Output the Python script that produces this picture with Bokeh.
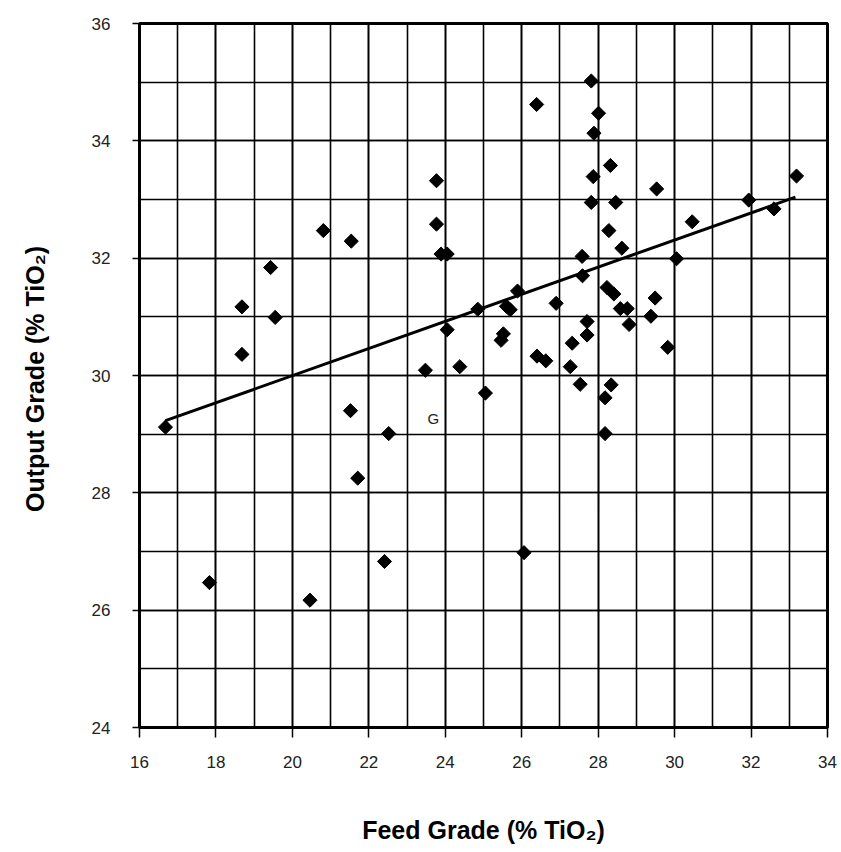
import numpy as np
from bokeh.plotting import figure
from bokeh.models import Range1d, SingleIntervalTicker, Label
from bokeh.embed import file_html
from bokeh.resources import INLINE

# Data
feed_grade = [27.82, 26.39, 28.01, 27.89, 28.32, 27.87, 33.19, 29.53, 23.77, 27.82,
              28.46, 31.94, 32.60, 30.46, 23.77, 28.28, 28.62, 23.89, 24.05, 27.58,
              30.05, 27.59, 28.23, 28.41, 25.89, 25.60, 25.70, 24.85, 26.90, 29.49,
              28.58, 28.76, 29.38, 28.81, 24.05, 27.71, 27.71, 25.52, 25.46, 27.32,
              29.82, 26.40, 26.63, 23.48, 24.38, 27.27, 27.53, 28.34, 28.18, 25.05,
              28.18, 18.68, 19.55, 18.68, 19.43, 20.81, 21.54, 16.68, 21.52, 22.52,
              21.71, 22.41, 17.83, 20.46, 26.06]
output_grade = [35.02, 34.62, 34.47, 34.13, 33.58, 33.39, 33.40, 33.18, 33.32, 32.95,
                32.95, 32.99, 32.84, 32.62, 32.58, 32.47, 32.17, 32.07, 32.07, 32.03,
                31.99, 31.70, 31.50, 31.39, 31.44, 31.18, 31.12, 31.13, 31.23, 31.32,
                31.14, 31.14, 31.01, 30.87, 30.78, 30.92, 30.69, 30.71, 30.60, 30.55,
                30.48, 30.33, 30.25, 30.09, 30.15, 30.15, 29.85, 29.84, 29.62, 29.70,
                29.01, 31.17, 30.99, 30.36, 31.84, 32.47, 32.29, 29.12, 29.40, 29.01,
                28.25, 26.83, 26.47, 26.17, 26.98]

# Trend line end points
fit_x = [16.68, 33.16]
fit_y = [29.23, 33.04]

# Annotation
g_label = {"x": 23.69, "y": 29.26, "text": "G"}

x_ticks_interval = 2
y_ticks_interval = 2

FONT = "Liberation Sans"

p = figure(width=841, height=852, output_backend="svg", toolbar_location=None,
           x_range=Range1d(16, 34), y_range=Range1d(24, 36),
           min_border_left=139, min_border_right=14, min_border_top=23, min_border_bottom=125)
p.background_fill_color = "white"
p.border_fill_color = "white"
p.outline_line_color = "black"
p.outline_line_width = 3

xt = SingleIntervalTicker(interval=x_ticks_interval, num_minor_ticks=2)
yt = SingleIntervalTicker(interval=y_ticks_interval, num_minor_ticks=2)
p.xaxis.ticker = xt
p.yaxis.ticker = yt
p.xgrid.ticker = xt
p.ygrid.ticker = yt

for g in (p.xgrid, p.ygrid):
    g.grid_line_color = "black"
    g.grid_line_width = 1.6
    g.grid_line_alpha = 1.0
    g.minor_grid_line_color = "black"
    g.minor_grid_line_width = 1.6

for ax in (p.xaxis, p.yaxis):
    ax.axis_line_color = "black"
    ax.axis_line_width = 3
    ax.major_tick_line_color = "black"
    ax.major_tick_line_width = 1.5
    ax.major_tick_in = 0
    ax.minor_tick_line_color = None
    ax.major_label_text_font = FONT
    ax.major_label_text_font_size = "17px"
    ax.major_label_text_color = "#222222"
    ax.axis_label_text_font = FONT
    ax.axis_label_text_font_style = "bold"
    ax.axis_label_text_font_size = "25px"
    ax.axis_label_text_color = "black"

p.xaxis.major_tick_out = 10
p.yaxis.major_tick_out = 7
p.xaxis.major_label_standoff = 18
p.yaxis.major_label_standoff = 22
p.xaxis.axis_label = "Feed Grade (% TiO\u2082)"
p.yaxis.axis_label = "Output Grade (%  TiO\u2082)"
p.xaxis.axis_label_standoff = 45
p.yaxis.axis_label_standoff = 40

p.line(fit_x, fit_y, line_color="black", line_width=3)
p.scatter(feed_grade, output_grade, marker="square", angle=np.pi / 4, size=10,
          fill_color="black", line_color="black")

p.add_layout(Label(x=g_label["x"], y=g_label["y"], text=g_label["text"],
                   text_font=FONT, text_font_size="15px", text_color="#222222",
                   text_align="center", text_baseline="middle"))

open("out.html", "w").write(file_html(p, INLINE))
